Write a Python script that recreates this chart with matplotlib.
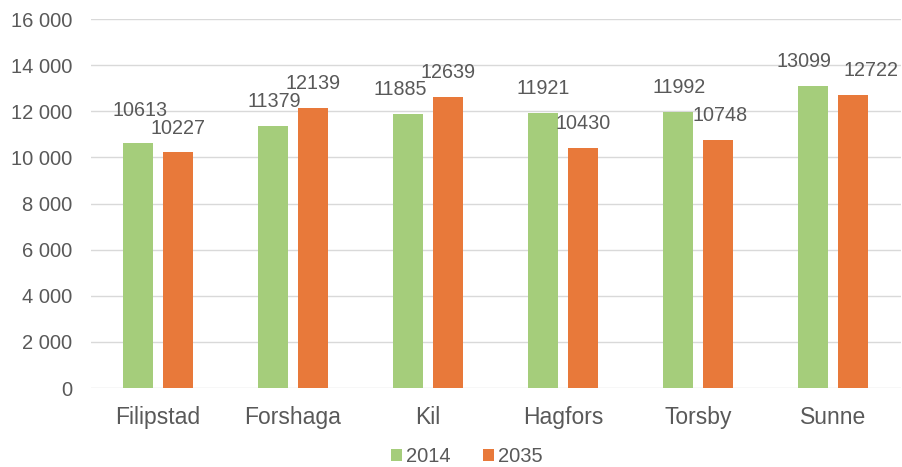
import matplotlib
matplotlib.use("Agg")
import matplotlib.pyplot as plt
import numpy as np
from matplotlib.ticker import FuncFormatter

categories = ["Filipstad", "Forshaga", "Kil", "Hagfors", "Torsby", "Sunne"]
values_2014 = [10613, 11379, 11885, 11921, 11992, 13099]
values_2035 = [10227, 12139, 12639, 10430, 10748, 12722]
series_names = ["2014", "2035"]

plt.rcParams['font.family'] = ['Liberation Sans', 'DejaVu Sans']
text_color = "#595959"
green = "#A5CD7B"
orange = "#E8793A"

# label nudges (pixels) to avoid label collisions, as in the reference
nudges_2014 = [(2, 9), (1, 0), (-8, 0), (0, 0), (1, 0), (-9, 0)]
nudges_2035 = [(0, 0), (0, 0), (0, 0), (0, 0), (2, 0), (18, 0)]

fig = plt.figure(figsize=(9.02, 4.67), dpi=100)
ax = fig.add_axes([90.5 / 902, 0.169, 810 / 902, 0.79])

x = np.arange(len(categories))
w = 0.222
off = 0.148
b1 = ax.bar(x - off, values_2014, w, color=green, label=series_names[0], zorder=3)
b2 = ax.bar(x + off, values_2035, w, color=orange, label=series_names[1], zorder=3)

px = 72 / 100
for bars, vals, nud in ((b1, values_2014, nudges_2014), (b2, values_2035, nudges_2035)):
    for r, v, (dx, dy) in zip(bars, vals, nud):
        ax.annotate(str(v), (r.get_x() + r.get_width() / 2, v),
                    xytext=(dx * px, 13.5 + dy * px),
                    textcoords="offset points", ha="center", va="baseline",
                    fontsize=14.2, color=text_color, zorder=4)

ax.set_ylim(0, 16000)
ax.set_yticks(np.arange(0, 16001, 2000))
ax.yaxis.set_major_formatter(FuncFormatter(lambda v, p: f"{int(v):,}".replace(",", " ")))
ax.set_xlim(-0.5, len(categories) - 0.5)
ax.set_xticks(x)
ax.set_xticklabels(categories)
ax.grid(axis="y", color="#D9D9D9", linewidth=1, zorder=0)
for s in ax.spines.values():
    s.set_visible(False)
ax.tick_params(axis="both", length=0, colors=text_color)
ax.tick_params(axis="x", pad=13, labelsize=16.5)
ax.tick_params(axis="y", pad=13, labelsize=14.5)

leg = fig.legend(handles=[b1, b2], labels=series_names, loc="center", bbox_to_anchor=(466.5 / 902, 1 - 457 / 467),
                 ncol=2, frameon=False, fontsize=14.5, handlelength=0.55, handleheight=0.55,
                 handletextpad=0.2, columnspacing=1.6)
for t in leg.get_texts():
    t.set_color(text_color)

fig.savefig("out.png", dpi=100)
